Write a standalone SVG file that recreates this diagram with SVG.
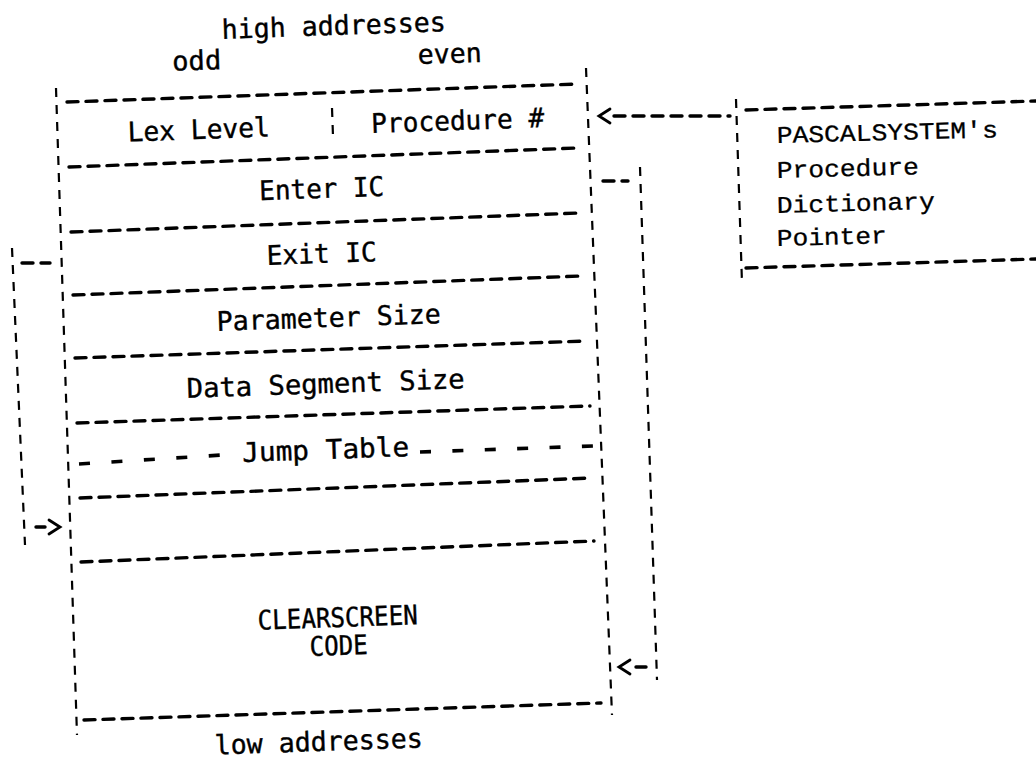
<svg xmlns="http://www.w3.org/2000/svg" width="1036" height="759" viewBox="0 0 1036 759">
<style>
 .h{fill:none;stroke:#000;stroke-width:3.4;stroke-dasharray:11 8;stroke-linecap:round}
 .v{fill:none;stroke:#000;stroke-width:2.2;stroke-dasharray:9 8}
 .jt{fill:none;stroke:#000;stroke-width:3.6;stroke-linecap:butt}
 .ar{fill:none;stroke:#000;stroke-width:2.8;stroke-linecap:round}
 .t{font-family:"DejaVu Sans Mono","Liberation Mono",monospace;font-size:27px;fill:#000;stroke:#000;stroke-width:0.4;text-anchor:middle}
 .p{font-family:"Liberation Mono","DejaVu Sans Mono",monospace;font-size:24px;fill:#000;stroke:#000;stroke-width:0.3}
</style>
<rect width="1036" height="759" fill="#fff"/>
<g id="labels">
 <text class="t" x="334" y="35" textLength="224" lengthAdjust="spacingAndGlyphs" transform="rotate(-2 334 35)">high addresses</text>
 <text class="t" x="197" y="70" textLength="49" lengthAdjust="spacingAndGlyphs" transform="rotate(-2 197 70)">odd</text>
 <text class="t" x="450" y="63" textLength="64" lengthAdjust="spacingAndGlyphs" transform="rotate(-2 450 63)">even</text>
 <text class="t" x="319" y="751" textLength="208" lengthAdjust="spacingAndGlyphs" transform="rotate(-2 319 751)">low addresses</text>
</g>
<g id="segment">
 <path class="v" d="M56,88 L77,735"/>
 <path class="v" d="M586,68 L612,715"/>
 <path class="h" d="M67,102 L577,84"/>
 <path class="h" d="M69,167 L578,148"/>
 <path class="h" d="M71,232 L580,213"/>
 <path class="h" d="M73,295 L582,276"/>
 <path class="h" d="M75,358 L586,341"/>
 <path class="h" d="M77,423 L590,406"/>
 <path class="h" d="M80,498 L592,478"/>
 <path class="h" d="M81,562 L594,541"/>
 <path class="h" d="M84,720 L601,703"/>
</g>
<g id="row-lex-level">
 <text class="t" x="199" y="139" textLength="142" lengthAdjust="spacingAndGlyphs" transform="rotate(-2 199 139)">Lex Level</text>
 <path class="v" d="M332,108 L333,136"/>
 <text class="t" x="458" y="130" textLength="173" lengthAdjust="spacingAndGlyphs" transform="rotate(-2 458 130)">Procedure #</text>
</g>
<g id="row-enter-ic">
 <text class="t" x="322" y="198" textLength="125" lengthAdjust="spacingAndGlyphs" transform="rotate(-2 322 198)">Enter IC</text>
</g>
<g id="row-exit-ic">
 <text class="t" x="322" y="263" textLength="110" lengthAdjust="spacingAndGlyphs" transform="rotate(-2 322 263)">Exit IC</text>
</g>
<g id="row-parameter-size">
 <text class="t" x="329" y="327" textLength="224" lengthAdjust="spacingAndGlyphs" transform="rotate(-2 329 327)">Parameter Size</text>
</g>
<g id="row-data-segment-size">
 <text class="t" x="326" y="393" textLength="278" lengthAdjust="spacingAndGlyphs" transform="rotate(-2 326 393)">Data Segment Size</text>
</g>
<g id="row-jump-table">
 <path class="jt" d="M79,464 L222,455" stroke-dasharray="11 21.5"/>
 <text class="t" x="326" y="459" textLength="167" lengthAdjust="spacingAndGlyphs" transform="rotate(-2 326 459)">Jump Table</text>
 <path class="jt" d="M420,452 L593,446" stroke-dasharray="11 21.4"/>
</g>
<g id="row-clearscreen-code">
 <text class="t" x="338" y="627" textLength="160" lengthAdjust="spacingAndGlyphs" transform="rotate(-2 338 627)">CLEARSCREEN</text>
 <text class="t" x="339" y="655" textLength="58" lengthAdjust="spacingAndGlyphs" transform="rotate(-2 339 655)">CODE</text>
</g>
<g id="pascal-pointer">
 <path class="v" d="M736,99 L742,283"/>
 <path class="h" d="M746,110 L1036,101"/>
 <path class="h" d="M746,268 L1036,259"/>
 <g class="p">
  <text x="777" y="143" textLength="221" lengthAdjust="spacingAndGlyphs" transform="rotate(-1.5 777 143)">PASCALSYSTEM's</text>
  <text x="777" y="178" textLength="142" lengthAdjust="spacingAndGlyphs" transform="rotate(-1.5 777 178)">Procedure</text>
  <text x="777" y="213" textLength="158" lengthAdjust="spacingAndGlyphs" transform="rotate(-1.5 777 213)">Dictionary</text>
  <text x="777" y="246" textLength="110" lengthAdjust="spacingAndGlyphs" transform="rotate(-1.5 777 246)">Pointer</text>
 </g>
</g>
<g id="connectors">
 <path class="h" d="M614,116 L730,116"/>
 <path class="ar" d="M610,109 L599,116 L610,123"/>
 <path class="h" d="M603,181 L628,181"/>
 <path class="v" d="M640,167 L657,680"/>
 <path class="h" d="M636,667 L646,667"/>
 <path class="ar" d="M630,660 L619,667 L630,674"/>
 <path class="v" d="M12,248 L25,545"/>
 <path class="h" d="M22,263 L50,263"/>
 <path class="h" d="M36,527 L45,527"/>
 <path class="ar" d="M49,520 L60,527 L49,534"/>
</g>
</svg>
